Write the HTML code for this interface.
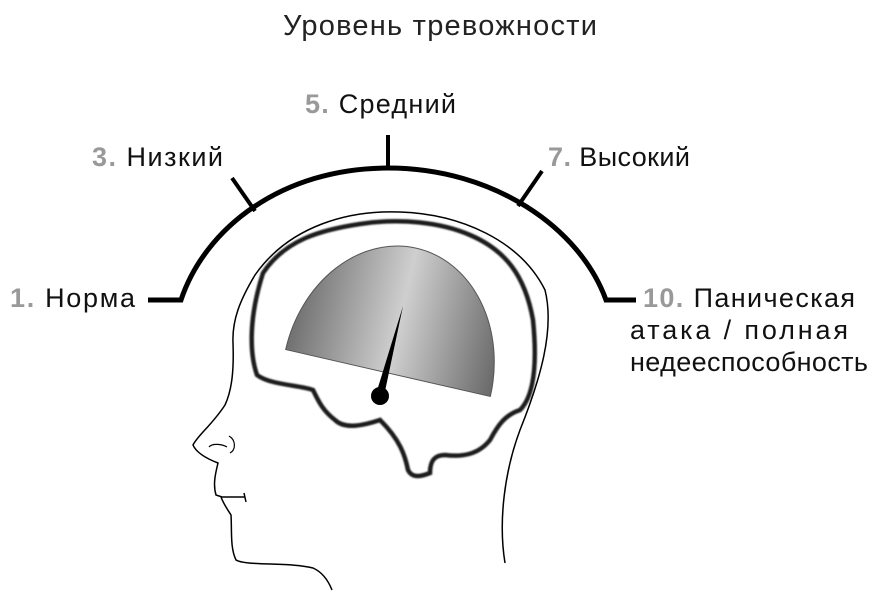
<!DOCTYPE html>
<html><head><meta charset="utf-8"><style>
body{margin:0;width:886px;height:600px;background:#fff;overflow:hidden;font-family:"Liberation Sans","DejaVu Sans",sans-serif;}
</style></head><body>
<svg width="886" height="600" viewBox="0 0 886 600" xmlns="http://www.w3.org/2000/svg">
<defs>
<linearGradient id="g" x1="0" y1="0" x2="1" y2="0">
<stop offset="0" stop-color="#707070"/><stop offset="0.5" stop-color="#cfcfcf"/><stop offset="1" stop-color="#6a6a6a"/>
</linearGradient>
<filter id="b"><feGaussianBlur stdDeviation="0.8"/></filter>
</defs>
<text x="440" y="35" text-anchor="middle" font-size="29" font-weight="300" fill="#222" textLength="314">Уровень тревожности</text>
<g font-size="27" fill="#111">
<text x="305" y="113" textLength="151"><tspan font-weight="bold" fill="#999">5.</tspan> Средний</text>
<text x="92" y="166" textLength="131"><tspan font-weight="bold" fill="#999">3.</tspan> Низкий</text>
<text x="548" y="166" textLength="142"><tspan font-weight="bold" fill="#999">7.</tspan> Высокий</text>
<text x="10" y="307" textLength="125"><tspan font-weight="bold" fill="#999">1.</tspan> Норма</text>
<text x="643" y="307" textLength="212"><tspan font-weight="bold" fill="#999">10.</tspan> Паническая</text>
<text x="630" y="339" textLength="218">атака / полная</text>
<text x="630" y="371" textLength="238">недееспособность</text>
</g>
<path d="M148,300 H181 C205,228 282,168 388,168 C494,168 580,228 606,300 H636" fill="none" stroke="#000" stroke-width="5"/>
<line x1="388" y1="135" x2="388" y2="168" stroke="#000" stroke-width="4"/>
<line x1="232" y1="178" x2="255" y2="211" stroke="#000" stroke-width="4"/>
<line x1="542" y1="171" x2="518" y2="206" stroke="#000" stroke-width="4"/>
<path d="M233,343 C232,320 240,300 255,275 C290,225 350,210 400,212 C460,214 520,240 545,290 C555,330 540,380 520,430 C505,470 498,520 505,563" fill="none" stroke="#000" stroke-width="1.5"/>
<path d="M233,343 C234,370 232,390 225,405 C212,425 198,435 193,445 C196,452 205,458 218,463 C215,475 213,485 216,495 L222,497 L245,497 M244,493 L246,502 M221,497 C224,505 228,510 231,515 C232,530 230,548 236,560 C245,566 290,562 313,568 C322,572 328,580 332,590" fill="none" stroke="#000" stroke-width="1.5"/>
<path d="M209,447 C212,443 222,444 227,447 M229,436 C236,440 236,450 230,453" fill="none" stroke="#000" stroke-width="1.2"/>
<path d="M263,273 C285,240 320,230 360,224 C400,218 440,222 470,235 C505,250 525,275 533,320 C537,360 535,395 520,410 C505,415 498,425 490,440 C478,455 462,457 445,455 C435,455 430,460 430,473 C420,477 412,478 408,470 C405,455 400,440 380,420 C365,425 345,430 335,420 C322,410 318,400 313,390 C300,385 270,385 257,375 C250,355 248,320 263,273 Z" fill="none" stroke="#1a1a1a" stroke-width="4.5" filter="url(#b)"/>
<g transform="rotate(12.9 388 373)">
<path d="M283,373 A105,128 0 0 1 493,373 Z" fill="url(#g)" stroke="#555" stroke-width="1"/>
</g>
<path d="M403,306 L384,396 L376,394 Z" fill="#000"/>
<circle cx="380" cy="396" r="9" fill="#000"/>
</svg>
</body></html>
